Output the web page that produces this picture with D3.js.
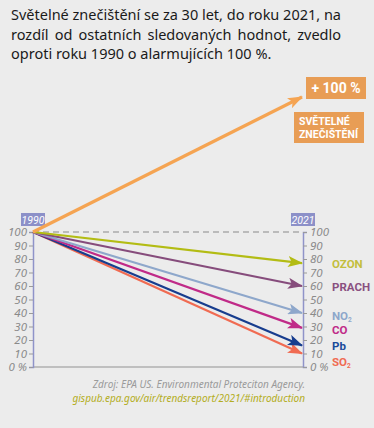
<!DOCTYPE html>
<html>
<head>
<meta charset="utf-8">
<script src="https://cdn.jsdelivr.net/npm/d3@7"></script>
<style>
  body { margin: 0; background: #ececec; }
  svg { display: block; font-family: "Noto Sans", sans-serif; }
</style>
</head>
<body>
<div id="plot"></div>
<script>
var titleLines = [
  "Světelné znečištění se za 30 let, do roku 2021, na",
  "rozdíl od ostatních sledovaných hodnot, zvedlo",
  "oproti roku 1990 o alarmujících 100 %."
];
var years = [1990, 2021];
var ticks = [0, 10, 20, 30, 40, 50, 60, 70, 80, 90, 100];
var seriesNames = ["SVĚTELNÉ ZNEČIŠTĚNÍ", "OZON", "PRACH", "NO2", "CO", "Pb", "SO2"];
var startValues = [100, 100, 100, 100, 100, 100, 100];
var endValues = [200, 77, 60, 40, 29, 16, 10];
var lineColors = ["#f5a452", "#b3bc14", "#864c7c", "#8ea7cb", "#c02a88", "#173d8e", "#f06b52"];
var labelColors = ["#e89a4e", "#c3be3e", "#8a5080", "#8ea7cb", "#c02a88", "#1a4a9a", "#f06b52"];
var labelY = [null, 268, 291, 320, 334, 350, 366];

var width = 374, height = 428;

var svg = d3.select("div#plot")
  .append("svg")
    .attr("width", width)
    .attr("height", height);

svg.append("rect").attr("width", width).attr("height", height).attr("fill", "#ececec");

// title, justified like the original
var tw = 330;
titleLines.forEach(function(t, i) {
  var txt = svg.append("text")
    .attr("x", 11)
    .attr("y", 20 + i * 19.5)
    .attr("font-size", 14.5)
    .attr("fill", "#1a1a1a")
    .text(t);
  if (i < 2) {
    var w = txt.node().getComputedTextLength();
    var gaps = t.split(" ").length - 1;
    txt.attr("word-spacing", (tw - w) / gaps);
  }
});

var x = d3.scaleLinear().domain(years).range([33, 303]);
var y = d3.scaleLinear().domain([0, 100]).range([367, 232]);

// baseline and dashed 100 line
svg.append("line")
  .attr("x1", x(1990)).attr("x2", x(2021))
  .attr("y1", y(0)).attr("y2", y(0))
  .attr("stroke", "#b0b0b0").attr("stroke-width", 1.5);
svg.append("line")
  .attr("x1", x(1990)).attr("x2", x(2021))
  .attr("y1", y(100)).attr("y2", y(100))
  .attr("stroke", "#aaaaaa").attr("stroke-width", 1.3)
  .attr("stroke-dasharray", "6,4");

var axisColor = "#8f93c9";

var leftAxis = d3.axisLeft(y).tickValues(ticks).tickSize(4).tickPadding(2)
  .tickFormat(function(d) { return d === 0 ? "0 %" : d; });
var rightAxis = d3.axisRight(y).tickValues(ticks).tickSize(4).tickPadding(3)
  .tickFormat(function(d) { return d === 0 ? "0 %" : d; });

[[leftAxis, x(1990)], [rightAxis, x(2021)]].forEach(function(a) {
  var g = svg.append("g")
    .attr("transform", "translate(" + a[1] + ",0)")
    .call(a[0]);
  g.select(".domain").attr("stroke", axisColor).attr("stroke-width", 1.5);
  g.selectAll(".tick line").attr("stroke", "#9a9a9a");
  g.selectAll(".tick text")
    .attr("fill", "#8a8a8a")
    .attr("font-size", 11.5)
    .attr("font-style", "italic")
    .attr("font-family", "Noto Sans, sans-serif");
});

// year tags
years.forEach(function(yr) {
  svg.append("rect")
    .attr("x", x(yr) - 12).attr("y", 213)
    .attr("width", 24).attr("height", 13)
    .attr("fill", "#8c90c8");
  svg.append("text")
    .attr("x", x(yr)).attr("y", 223.5)
    .attr("text-anchor", "middle")
    .attr("font-size", 10.5)
    .attr("font-style", "italic")
    .attr("font-family", "Roboto, sans-serif")
    .attr("fill", "#ffffff")
    .text(yr);
});

// arrow markers
var defs = svg.append("defs");
lineColors.forEach(function(c, i) {
  defs.append("marker")
    .attr("id", "arr" + i)
    .attr("markerUnits", "userSpaceOnUse")
    .attr("viewBox", "0 0 15 11")
    .attr("refX", 14).attr("refY", 5.5)
    .attr("markerWidth", 15).attr("markerHeight", 11)
    .attr("orient", "auto")
    .append("path")
      .attr("d", "M0,0 L15,5.5 L0,11 L3.5,5.5 Z")
      .attr("fill", c);
});

// series lines (drawn back to front)
var order = [6, 5, 4, 3, 2, 1, 0];
order.forEach(function(i) {
  svg.append("line")
    .attr("x1", x(years[0])).attr("y1", y(startValues[i]))
    .attr("x2", x(years[1]) - 1).attr("y2", y(endValues[i]))
    .attr("stroke", lineColors[i])
    .attr("stroke-width", i === 0 ? 3.2 : 2.2)
    .attr("marker-end", "url(#arr" + i + ")");
});

// labels
seriesNames.forEach(function(n, i) {
  if (i === 0) return;
  var t = svg.append("text")
    .attr("x", 332).attr("y", labelY[i])
    .attr("font-size", 11.5)
    .attr("font-family", "Roboto, sans-serif")
    .attr("font-weight", "bold")
    .attr("fill", labelColors[i]);
  if (n.slice(-1) === "2") {
    t.append("tspan").text(n.slice(0, -1));
    t.append("tspan").attr("font-size", 6.5).attr("dy", 2).text("2");
  } else {
    t.text(n);
  }
});

// light pollution boxes
svg.append("rect").attr("x", 306).attr("y", 77).attr("width", 60).attr("height", 22).attr("fill", "#e89d55");
svg.append("text").attr("x", 336).attr("y", 93).attr("text-anchor", "middle")
  .attr("font-family", "Roboto, sans-serif")
  .attr("font-size", 14).attr("font-weight", "bold").attr("fill", "#fff").text("+ 100 %");
svg.append("rect").attr("x", 294).attr("y", 112).attr("width", 70).attr("height", 31).attr("fill", "#e89d55");
seriesNames[0].split(" ").forEach(function(w, i) {
  svg.append("text").attr("x", 299).attr("y", 125 + i * 13)
    .attr("font-family", "Roboto, sans-serif")
    .attr("font-size", 10.5).attr("font-weight", "bold").attr("fill", "#fff").text(w);
});

// source
svg.append("text").attr("x", 305).attr("y", 388).attr("text-anchor", "end")
  .attr("font-size", 10).attr("font-style", "italic").attr("fill", "#9a9a9a")
  .text("Zdroj: EPA US. Environmental Proteciton Agency.");
svg.append("text").attr("x", 305).attr("y", 402).attr("text-anchor", "end")
  .attr("font-size", 10).attr("font-style", "italic").attr("fill", "#b3ad22")
  .text("gispub.epa.gov/air/trendsreport/2021/#introduction");
</script>
</body>
</html>
